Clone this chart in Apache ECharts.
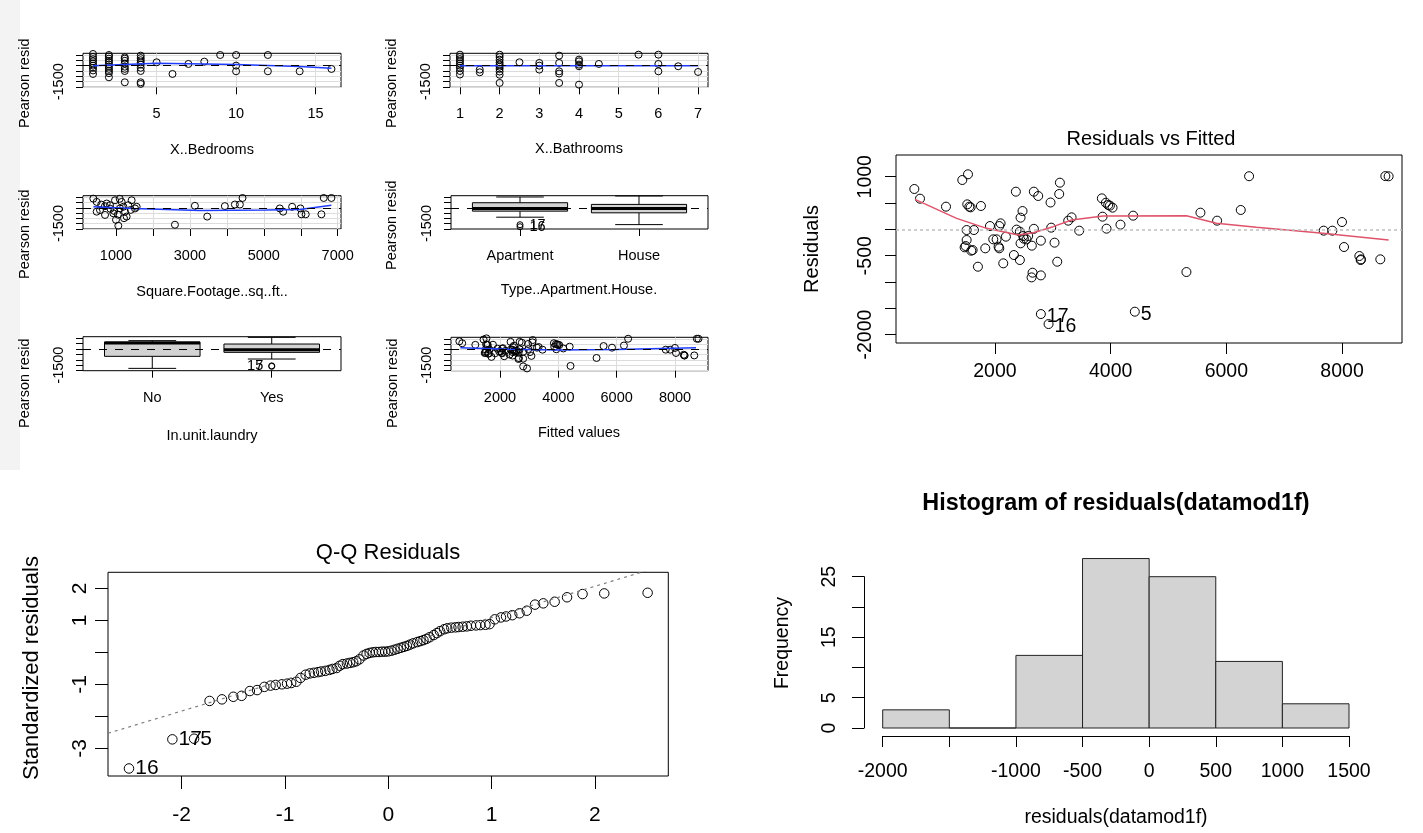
<!DOCTYPE html>
<html>
<head>
<meta charset="utf-8">
<title>Model diagnostics</title>
<script src="https://cdn.jsdelivr.net/npm/echarts@6/dist/echarts.min.js"></script>
<style>
  html, body { margin: 0; padding: 0; background: #fff; }
  #chart { width: 1423px; height: 833px; }
</style>
</head>
<body>
<div id="chart"></div>
<script>
// ---- residuals vs fitted (also used by the small "Fitted values" panel) ----
const fittedVals = [607,705,1154,1436,1534,1522,1557,1580,1758,1511, 1637,1511,1476,1591,1614,1706,1833,1914,2075,2098,
  1971,2029,2063,2075,2190,2144,2328,2362,2374,2431, 2443,2477,2443,2489,2546,2431,2575,2638,2673,2673,
  2748,2650,2633,2794,2794,2794,2927,2961,2973,3030, 3077,3111,3123,3267,3325,3457,3848,3917,3958,3987,
  4033,3860,3929,4170,4389,4418,5310,5552,5840,6249, 6393,7682,7832,7999,8034,8299,8327,8322,8661,8748,
  8805,1494,2500];
const residVals = [767,583,431,938,1046,475,431,418,444,-13, -13,-203,-342,-406,-393,-710,-361,63,63,114,
  -190,-190,-330,-361,-139,-646,-488,716,-5,-44, 222,348,-266,-127,-190,-583,-127,-310,10,716,
  634,-824,-913,-875,-215,-1610,-1800,510,32,-253, -615,672,887,165,228,-25,589,505,463,450,
  412,241,13,89,260,-1565,-811,317,165,368, 1010,-25,-25,139,-336,-507,-570,-583,-570,1012,
  1008,-317,-177];
const idIndex = [45, 46, 65];
const idText = ['17', '16', '5'];
const loessX = [618, 1338, 1856, 2403, 2662, 3007, 3324, 3871, 5310, 5828, 6519, 7670, 8805];
const loessY = [570, 209, 19, -108, -63, 51, 177, 253, 260, 114, 38, -76, -203];
const fitSmoothX = [640, 2300, 4000, 6000, 8720];
const fitSmoothY = [150, 10, -60, -20, 150];

// ---- residual plots against predictors ----
const bedX = [1,1,1,1,1,1,1,1,1, 2,2,2,2,2,2,2,2,2,2,2, 3,3,3,3,3,3,3,3, 4,4,4,4,4,4,4,4,4,
  5,6,7,8,9,10,10,10,12,12,14,16];
const bedResid = [1085,800,600,400,200,0,-200,-450,-775, 990,850,650,450,300,100,-100,-300,-500,-700,-1085,
  775,650,450,200,-100,-300,-500,-1550, 930,700,500,300,100,-200,-500,-1550,-1700,
  310,-775,155,372,990,990,0,-527,990,-527,-527,-310];
const bedSmoothX = [1, 5, 10, 14, 16];
const bedSmoothY = [0, 215, 95, -90, -250];

const bathX = [1,1,1,1,1,1,1,1,1, 1.5,1.5, 2,2,2,2,2,2,2,2,2,2, 2.5, 3,3,3, 3.5,3.5,3.5,3.5,3.5,
  4,4,4,4,4, 4.5, 5.5, 6,6,6, 6.5, 7];
const bathResid = [1020,800,600,400,200,0,-200,-500,-830, -370,-620, 1020,800,550,300,100,-100,-300,-550,-850,-1610,
  310, 250,0,-370, 930,250,-530,-740,-1610, 560,400,90,-60,-1770, 155, 1020, 1020,155,-530, -60, -590];
const bathSmoothX = [1, 4, 7];
const bathSmoothY = [0, 0, 0];

const sqftX = [387,477,567,477,703,838,973,1000,1063,1108,1153,1243,1333,1423,1216,1514,1559,748,928,1288,
  600,850,1100,1200,950,700,1400,1050,
  2595,3135,3469,3946,4217,4352,4424,5433,5523,5766,5991,6018,6135,6559,6622,6829];
const sqftResid = [868,558,-217,-372,-682,248,713,-1147,-1705,-62,558,-372,248,713,-992,-62,93,403,-527,-837,
  300,-100,850,100,-300,150,-200,-650,
  -1612,186,-837,155,310,310,930,-62,-372,93,-62,-620,-620,-620,930,930];
const sqftSmoothX = [387, 1469, 3270, 5073, 5974, 6829];
const sqftSmoothY = [93, -62, -248, -217, -155, 248];

// boxplot stats: [min, q1, median, q3, max]
const typeNames = ['Apartment', 'House'];
const typeBoxes = [[-896, -320, -60, 480, 1024], [-1600, -480, -64, 320, 1120]];
const typeOutPos = [1, 1];
const typeOutVal = [-1610, -1800];
const typeOutId = ['17', '16'];
const laundryNames = ['No', 'Yes'];
const laundryBoxes = [[-1800, -680, 560, 650, 780], [-930, -310, -62, 465, 1085]];
const laundryOutPos = [2, 2];
const laundryOutVal = [-1565, -1610];
const laundryOutId = ['5', '17'];
const smallYTicks = [-2000, -1500, -1000, -500, 0, 500, 1000];

// ---- Q-Q ----
const qqTheo = [-2.51,-2.09,-1.88,-1.73,-1.61,-1.50,-1.42,-1.34,-1.27,-1.20,-1.14,-1.09,-1.03,-0.98,-0.94,-0.89,-0.85,-0.80,-0.76,-0.72,
  -0.68,-0.65,-0.61,-0.57,-0.54,-0.50,-0.47,-0.44,-0.40,-0.37,-0.34,-0.31,-0.28,-0.24,-0.21,-0.18,-0.15,-0.12,-0.09,-0.06,-0.03,
  0.00,0.03,0.06,0.09,0.12,0.15,0.18,0.21,0.24,0.28,0.31,0.34,0.37,0.40,0.44,0.47,0.50,0.54,0.57,0.61,0.65,
  0.68,0.72,0.76,0.80,0.85,0.89,0.94,0.98,1.03,1.09,1.14,1.20,1.27,1.34,1.42,1.50,1.61,1.73,1.88,2.09,2.51];
const qqStd = [-3.63,-2.72,-2.70,-1.52,-1.47,-1.39,-1.36,-1.21,-1.18,-1.08, -1.04,-1.02,-1.00,-0.98,-0.96,-0.92,-0.80,-0.70,-0.66,-0.64,
  -0.62,-0.60,-0.58,-0.55,-0.52,-0.49,-0.42,-0.37,-0.35,-0.33, -0.31,-0.28,-0.22,-0.10,-0.05,-0.02,0.00,0.01,0.01,0.02,
  0.02,0.03,0.05,0.08,0.11,0.14,0.17,0.20,0.24,0.28, 0.32,0.35,0.38,0.42,0.47,0.54,0.60,0.66,0.72,0.75,
  0.77,0.78,0.79,0.80,0.81,0.83,0.84,0.85,0.86,0.88, 1.03,1.09,1.12,1.16,1.22,1.30,1.49,1.53,1.58,1.72,
  1.82,1.84,1.86];
const qqIdText = ['16', '17', '5'];
const qqLineX = [-2.713, 2.71];
const qqLineY = [-2.53, 2.755];

// ---- histogram ----
const histEdges = [-2000, -1500, -1000, -500, 0, 500, 1000, 1500];
const histCounts = [3, 0, 12, 28, 25, 11, 4];

// =========================================================
const FONT = "'Liberation Sans', Arial, Helvetica, sans-serif";
const grids = [], xAxes = [], yAxes = [], series = [], texts = [];
const plain = v => String(v);

function axisCfg(gi, o) {
  return {
    gridIndex: gi, type: 'value', min: o.min, max: o.max, offset: o.offset || 0,
    axisLine: { show: !!o.line, onZero: false, lineStyle: { color: '#000', width: 1 } },
    axisTick: { show: true, inside: false, length: o.tick, customValues: o.ticks, lineStyle: { color: '#000', width: 1 } },
    axisLabel: { show: true, customValues: o.labels, formatter: o.fmt || plain, margin: o.margin,
      rotate: o.rotate || 0, fontSize: o.fs, fontFamily: FONT, color: '#000' },
    splitLine: { show: !!o.grid, lineStyle: { color: '#dcdcdc', width: 1 } }
  };
}

function panel(box, xo, yo, framed) {
  const gi = grids.length;
  grids.push({ left: box[0], top: box[1], width: box[2], height: box[3], show: framed !== false,
    borderColor: '#000', borderWidth: 1, backgroundColor: 'rgba(0,0,0,0)', outerBoundsMode: 'none' });
  xAxes.push(axisCfg(gi, xo));
  yAxes.push(axisCfg(gi, yo));
  return gi;
}

function addText(text, x, y, size, o = {}) {
  texts.push({ type: 'text', x: x, y: y, rotation: o.rot ? Math.PI / 2 : 0, silent: true, z: 10,
    style: { text: text, fontSize: size, fontFamily: FONT, fontWeight: o.bold ? 'bold' : 'normal', fill: '#000',
      align: o.align || 'center', verticalAlign: 'middle', textAlign: o.align || 'center', textVerticalAlign: 'middle' } });
}

function circles(gi, xs, ys, size, extra) {
  return Object.assign({
    type: 'scatter', xAxisIndex: gi, yAxisIndex: gi, symbol: 'circle', symbolSize: size, silent: true, z: 3,
    itemStyle: { color: 'rgba(0,0,0,0)', borderColor: '#000', borderWidth: 1, opacity: 1 },
    data: xs.map((x, i) => [x, ys[i]])
  }, extra || {});
}

function curve(gi, xs, ys, color, width, type) {
  return { type: 'line', xAxisIndex: gi, yAxisIndex: gi, showSymbol: false, symbol: 'none', silent: true, z: 4,
    lineStyle: { color: color, width: width, type: type || 'solid' }, data: xs.map((x, i) => [x, ys[i]]) };
}

function zeroLine(color, type, width) {
  return { silent: true, symbol: ['none', 'none'], label: { show: false }, animation: false,
    lineStyle: { color: color, type: type, width: width }, data: [{ yAxis: 0 }] };
}

const BOX_HALF = 0.4, CAP_HALF = 0.2;
function boxItem(params, api) {
  const x = api.value(0);
  const lo = api.value(1), q1 = api.value(2), md = api.value(3), q3 = api.value(4), hi = api.value(5);
  const p = (vx, vy) => api.coord([vx, vy]);
  const seg = (a, b, w) => ({ type: 'line', shape: { x1: a[0], y1: a[1], x2: b[0], y2: b[1] },
    style: { stroke: '#000', lineWidth: w || 1 } });
  const tl = p(x - BOX_HALF, q3), br = p(x + BOX_HALF, q1);
  return { type: 'group', children: [
    seg(p(x, q3), p(x, hi)), seg(p(x, q1), p(x, lo)),
    seg(p(x - CAP_HALF, hi), p(x + CAP_HALF, hi)), seg(p(x - CAP_HALF, lo), p(x + CAP_HALF, lo)),
    { type: 'rect', shape: { x: tl[0], y: tl[1], width: br[0] - tl[0], height: br[1] - tl[1] },
      style: { fill: '#d3d3d3', stroke: '#000', lineWidth: 1 } },
    seg(p(x - BOX_HALF, md), p(x + BOX_HALF, md), 3)
  ] };
}

function smallY(min, max) {
  return { min: min, max: max, ticks: smallYTicks, labels: [-1500], tick: 7, margin: 17, fs: 14.5, rotate: 90 };
}

// ---- six small residual panels ----
const SMALL_YMIN = -2017, SMALL_YMAX = 1147;

let g = panel([83, 53.3, 258, 34],
  { min: 0.37, max: 16.6, ticks: [5, 10, 15], labels: [5, 10, 15], tick: 7, margin: 19.5, fs: 14.5, grid: true },
  Object.assign(smallY(SMALL_YMIN, SMALL_YMAX), { grid: true }));
series.push(circles(g, bedX, bedResid, 7, { markLine: zeroLine('#000', [8, 8], 1) }));
series.push(curve(g, bedSmoothX, bedSmoothY, '#1f3cff', 1.5));

g = panel([450, 53.3, 258, 34],
  { min: 0.75, max: 7.25, ticks: [1, 2, 3, 4, 5, 6, 7], labels: [1, 2, 3, 4, 5, 6, 7], tick: 7, margin: 19.5, fs: 14.5, grid: true },
  Object.assign(smallY(SMALL_YMIN, SMALL_YMAX), { grid: true }));
series.push(circles(g, bathX, bathResid, 7, { markLine: zeroLine('#000', [8, 8], 1) }));
series.push(curve(g, bathSmoothX, bathSmoothY, '#1f3cff', 1.5));

g = panel([83, 195.7, 258, 33.3],
  { min: 107, max: 7089, ticks: [1000, 2000, 3000, 4000, 5000, 6000, 7000], labels: [1000, 3000, 5000, 7000], tick: 7, margin: 19.5, fs: 14.5, grid: true },
  Object.assign(smallY(SMALL_YMIN, SMALL_YMAX), { grid: true }));
series.push(circles(g, sqftX, sqftResid, 7, { markLine: zeroLine('#000', [8, 8], 1) }));
series.push(curve(g, sqftSmoothX, sqftSmoothY, '#1f3cff', 1.5));

g = panel([451, 195.7, 257, 33.3],
  { min: 0.42, max: 2.58, ticks: [1, 2], labels: [1, 2], fmt: v => typeNames[v - 1], tick: 7, margin: 19.5, fs: 14.5 },
  smallY(SMALL_YMIN, SMALL_YMAX));
series.push({ type: 'custom', xAxisIndex: g, yAxisIndex: g, renderItem: boxItem, silent: true, z: 2,
  encode: { x: 0, y: [1, 2, 3, 4, 5] }, data: typeBoxes.map((b, i) => [i + 1].concat(b)) });
series.push(circles(g, typeOutPos, typeOutVal, 6, {
  markLine: zeroLine('#000', [8, 8], 1),
  data: typeOutPos.map((x, i) => ({ value: [x, typeOutVal[i]],
    label: { show: true, formatter: typeOutId[i], position: 'right', distance: 6, fontSize: 14.5, fontFamily: FONT, color: '#000' } }))
}));

g = panel([83, 336.7, 258, 34],
  { min: 0.42, max: 2.58, ticks: [1, 2], labels: [1, 2], fmt: v => laundryNames[v - 1], tick: 7, margin: 19.5, fs: 14.5 },
  smallY(SMALL_YMIN, SMALL_YMAX));
series.push({ type: 'custom', xAxisIndex: g, yAxisIndex: g, renderItem: boxItem, silent: true, z: 2,
  encode: { x: 0, y: [1, 2, 3, 4, 5] }, data: laundryBoxes.map((b, i) => [i + 1].concat(b)) });
series.push(circles(g, laundryOutPos, laundryOutVal, 6, {
  markLine: zeroLine('#000', [8, 8], 1),
  data: laundryOutPos.map((x, i) => ({ value: [x, laundryOutVal[i]],
    label: { show: true, formatter: laundryOutId[i], position: 'left', distance: 5, fontSize: 14.5, fontFamily: FONT, color: '#000' } }))
}));

g = panel([451, 337.3, 257, 33.4],
  { min: 320, max: 9131, ticks: [2000, 4000, 6000, 8000], labels: [2000, 4000, 6000, 8000], tick: 7, margin: 19.5, fs: 14.5, grid: true },
  Object.assign(smallY(SMALL_YMIN, SMALL_YMAX), { grid: true }));
series.push(circles(g, fittedVals, residVals, 7, { markLine: zeroLine('#000', [8, 8], 1) }));
series.push(curve(g, fitSmoothX, fitSmoothY, '#1f3cff', 1.5));

// ---- Residuals vs Fitted ----
g = panel([896, 155, 506, 188],
  { min: 290, max: 9036, ticks: [2000, 4000, 6000, 8000], labels: [2000, 4000, 6000, 8000], tick: 11, margin: 18.5, fs: 19.5 },
  { min: -2160, max: 1413, ticks: [-2000, -1500, -1000, -500, 0, 500, 1000], labels: [-2000, -500, 1000], tick: 11, margin: 20, fs: 19.5, rotate: 90 });
series.push(circles(g, fittedVals, residVals, 9, {
  markLine: zeroLine('#bebebe', [3, 3], 1.5),
  data: fittedVals.map((x, i) => {
    const k = idIndex.indexOf(i);
    const item = { value: [x, residVals[i]] };
    if (k >= 0) item.label = { show: true, formatter: idText[k], position: 'right', distance: 1, offset: [0, 3],
      fontSize: 19.5, fontFamily: FONT, color: '#000' };
    return item;
  })
}));
series.push(curve(g, loessX, loessY, '#DF536B', 1.5));

// ---- Q-Q Residuals ----
g = panel([108, 572.3, 560.3, 203.7],
  { min: -2.713, max: 2.71, ticks: [-2, -1, 0, 1, 2], labels: [-2, -1, 0, 1, 2], tick: 13, margin: 29, fs: 21 },
  { min: -3.865, max: 2.5, ticks: [-3, -2, -1, 0, 1, 2], labels: [-3, -1, 1, 2], tick: 13, margin: 17.5, fs: 21, rotate: 90 });
series.push(curve(g, qqLineX, qqLineY, '#7f7f7f', 1.2, [3, 4]));
series.push(circles(g, qqTheo, qqStd, 9.5, {
  data: qqTheo.map((x, i) => {
    const item = { value: [x, qqStd[i]] };
    if (i < qqIdText.length) item.label = { show: true, formatter: qqIdText[i], position: 'right', distance: 1,
      fontSize: 21, fontFamily: FONT, color: '#000' };
    return item;
  })
}));

// ---- Histogram ----
g = panel([882.7, 576.7, 466.3, 151.3],
  { min: -2000, max: 1500, ticks: [-2000, -1500, -1000, -500, 0, 500, 1000, 1500], labels: [-2000, -1000, -500, 0, 500, 1000, 1500],
    tick: 11, margin: 26, fs: 19.5, line: true, offset: 8 },
  { min: 0, max: 25, ticks: [0, 5, 10, 15, 20, 25], labels: [0, 5, 15, 25], tick: 12, margin: 24, fs: 19.5, rotate: 90, line: true, offset: 18.7 },
  false);
series.push({ type: 'custom', xAxisIndex: g, yAxisIndex: g, silent: true, clip: false, z: 2,
  encode: { x: [0, 1], y: 2 },
  data: histCounts.map((c, i) => [histEdges[i], histEdges[i + 1], c]),
  renderItem: (params, api) => {
    const a = api.coord([api.value(0), api.value(2)]);
    const b = api.coord([api.value(1), 0]);
    return { type: 'rect', shape: { x: a[0], y: a[1], width: b[0] - a[0], height: b[1] - a[1] },
      style: { fill: '#d3d3d3', stroke: '#222', lineWidth: 1 } };
  } });

// ---- titles & axis names ----
texts.push({ type: 'rect', shape: { x: 0, y: 0, width: 20, height: 470 }, style: { fill: '#f3f3f3' }, silent: true, z: 0 });
[[25, 128], [392, 128], [25, 279], [392, 270], [25, 428], [393, 428]].forEach(p =>
  addText('Pearson resid', p[0], p[1], 14.5, { rot: true, align: 'left' }));
addText('X..Bedrooms', 212, 150, 14.5);
addText('X..Bathrooms', 579, 149.3, 14.5);
addText('Square.Footage..sq..ft..', 212, 292, 14.5);
addText('Type..Apartment.House.', 579, 290, 14.5);
addText('In.unit.laundry', 212, 436, 14.5);
addText('Fitted values', 579, 433, 14.5);

addText('Residuals vs Fitted', 1151, 139, 20);
addText('Residuals', 812.7, 249, 20, { rot: true });
addText('Q-Q Residuals', 388, 553, 22);
addText('Standardized residuals', 32, 668, 22, { rot: true });
addText('Histogram of residuals(datamod1f)', 1116, 504, 23.4, { bold: true });
addText('Frequency', 783, 643, 19.5, { rot: true });
addText('residuals(datamod1f)', 1116, 818, 19.5);

const chart = echarts.init(document.getElementById('chart'), null, { renderer: 'canvas' });
chart.setOption({
  animation: false,
  backgroundColor: '#ffffff',
  grid: grids,
  xAxis: xAxes,
  yAxis: yAxes,
  series: series,
  graphic: { elements: texts }
});
</script>
</body>
</html>
